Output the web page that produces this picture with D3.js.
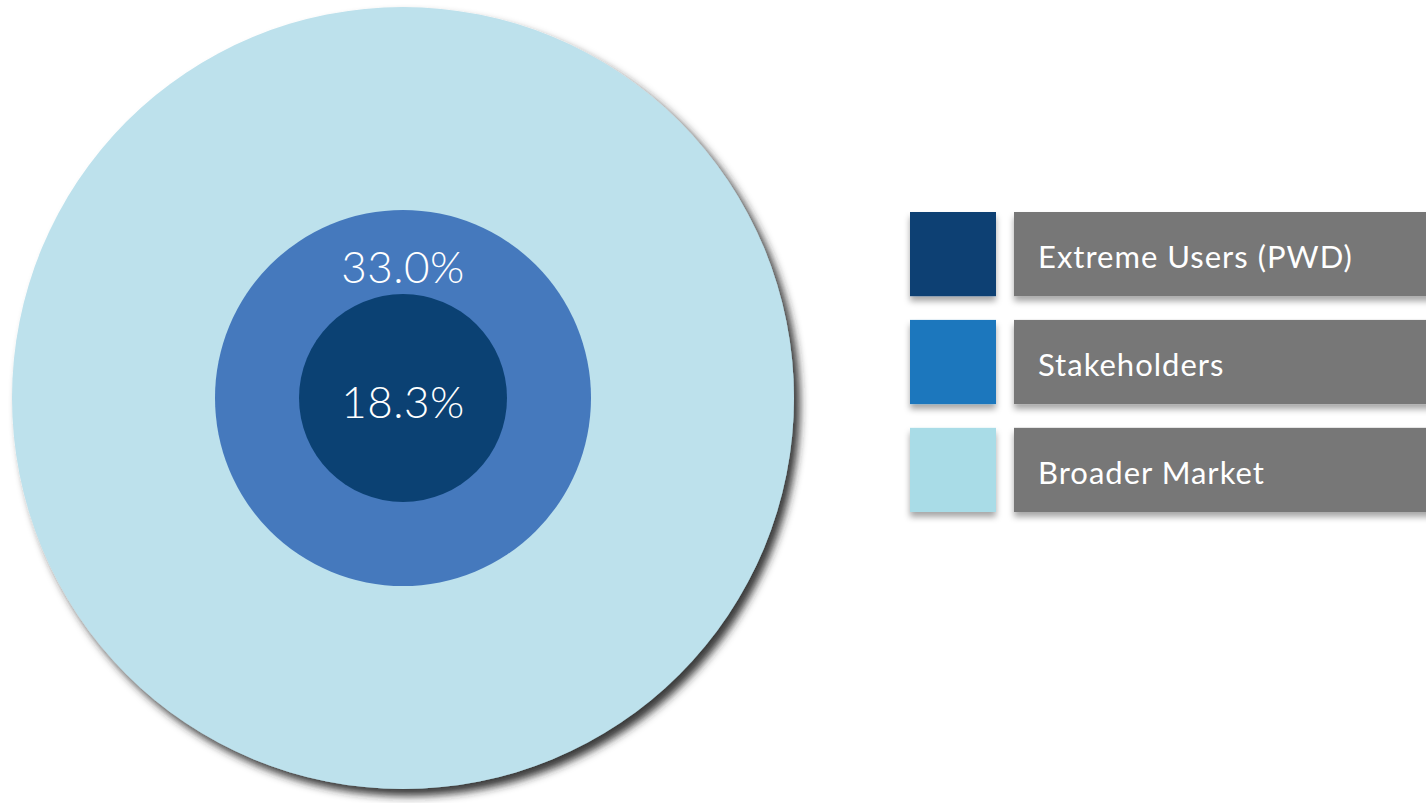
<!DOCTYPE html>
<html>
<head>
<meta charset="utf-8">
<script src="https://cdn.jsdelivr.net/npm/d3@7"></script>
<style>
  body { margin: 0; background: #ffffff; }
  svg { display: block; font-family: "Lato", "Open Sans", sans-serif; }
</style>
</head>
<body>
<div id="chart"></div>
<script>
// Data

var categories = ["Extreme Users (PWD)", "Stakeholders", "Broader Market"];
var shares = [18.3, 33.0, null];   // the broader market ring carries no label
var shareLabels = ["18.3%", "33.0%", ""];

var width = 1426,
    height = 803;

var data = categories.map(function (c, i) {
  return { category: c, share: shares[i], label: shareLabels[i] };
});

/* Rings are nested, not proportional, so radius comes from an ordinal
   scale keyed by category. */

var radius = d3.scaleOrdinal()
    .domain(categories)
    .range([104, 188, 391]);

var ringColor = d3.scaleOrdinal()
    .domain(categories)
    .range(["#0b4173", "#4579bd", "#bde1ec"]);

var swatchColor = d3.scaleOrdinal()
    .domain(categories)
    .range(["#0b4173", "#1e77bd", "#a9dce7"]);

var legendY = d3.scaleBand()
    .domain(categories)
    .range([212, 512])
    .paddingInner(0.22)
    .paddingOuter(0);

var svg = d3.select("#chart").append("svg")
    .attr("width", width)
    .attr("height", height);

var defs = svg.append("defs");

defs.append("filter")
    .attr("id", "circleShadow")
    .attr("x", "-10%").attr("y", "-10%")
    .attr("width", "125%").attr("height", "125%")
  .append("feDropShadow")
    .attr("dx", 6)
    .attr("dy", 7)
    .attr("stdDeviation", 4)
    .attr("flood-color", "#222222")
    .attr("flood-opacity", 0.9);

defs.append("filter")
    .attr("id", "boxShadow")
    .attr("x", "-10%").attr("y", "-20%")
    .attr("width", "130%").attr("height", "160%")
  .append("feDropShadow")
    .attr("dx", 0)
    .attr("dy", 5)
    .attr("stdDeviation", 3)
    .attr("flood-color", "#000000")
    .attr("flood-opacity", 0.35);

var cx = 403,
    cy = 398;

// Largest ring first so smaller ones sit on top

var rings = svg.append("g")
    .attr("class", "rings")
    .attr("transform", "translate(" + cx + "," + cy + ")");

rings.selectAll("circle")
    .data(data.slice().reverse())
  .enter().append("circle")
    .attr("r", function (d) { return radius(d.category); })
    .attr("fill", function (d) { return ringColor(d.category); })
    .attr("filter", function (d, i) { return i === 0 ? "url(#circleShadow)" : null; });

// Percent labels: inner one centred, middle one in the top band of its ring

rings.selectAll("text")
    .data(data.filter(function (d) { return d.share !== null; }))
  .enter().append("text")
    .attr("x", 0)
    .attr("y", function (d, i) {
      if (i === 0) return 20;
      return -(radius(categories[0]) + radius(d.category)) / 2 + 31;
    })
    .attr("text-anchor", "middle")
    .attr("fill", "#ffffff")
    .style("font-size", "44px")
    .style("font-weight", 300)
    .style("letter-spacing", "0.5px")
    .text(function (d) { return d.label; });

// Legend

var legend = svg.append("g")
    .attr("class", "legend");

var rows = legend.selectAll("g")
    .data(data)
  .enter().append("g")
    .attr("transform", function (d) { return "translate(0," + legendY(d.category) + ")"; });

rows.append("rect")
    .attr("x", 910)
    .attr("width", 86)
    .attr("height", legendY.bandwidth())
    .attr("fill", function (d) { return swatchColor(d.category); })
    .attr("filter", "url(#boxShadow)");

rows.append("rect")
    .attr("x", 1014)
    .attr("width", 430)
    .attr("height", legendY.bandwidth())
    .attr("fill", "#777777")
    .attr("filter", "url(#boxShadow)");

rows.append("text")
    .attr("x", 1038)
    .attr("y", legendY.bandwidth() / 2 + 14)
    .attr("fill", "#ffffff")
    .style("font-size", "31px")
    .style("letter-spacing", "1px")
    .text(function (d) { return d.category; });
</script>
</body>
</html>
